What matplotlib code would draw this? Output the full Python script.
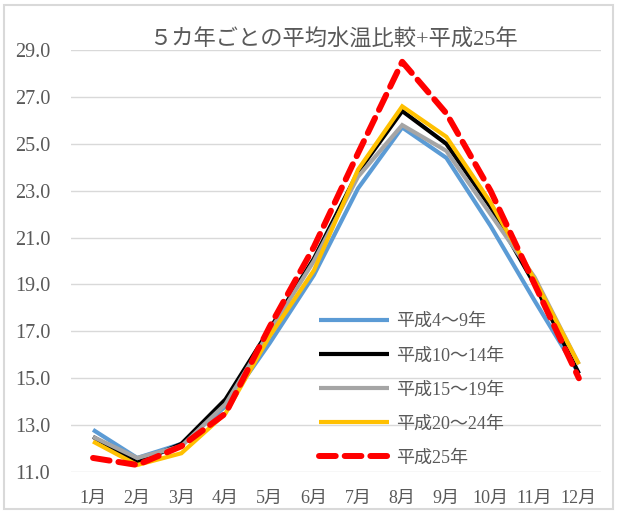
import matplotlib
matplotlib.use("Agg")
import matplotlib.pyplot as plt
from matplotlib.patches import Rectangle

plt.rcParams['font.family'] = ['Liberation Serif', 'Noto Sans CJK JP', 'DejaVu Sans']

months = ["1月", "2月", "3月", "4月", "5月", "6月", "7月", "8月", "9月", "10月", "11月", "12月"]

h4_9 = [12.8, 11.6, 12.2, 13.8, 16.5, 19.4, 23.1, 25.7, 24.4, 21.5, 18.3, 15.2]
h10_14 = [12.5, 11.4, 12.2, 14.1, 17.1, 20.1, 23.8, 26.4, 25.0, 22.3, 19.0, 15.2]
h15_19 = [12.5, 11.6, 12.1, 13.9, 17.0, 20.0, 23.6, 25.8, 24.7, 22.0, 19.3, 15.6]
h20_24 = [12.3, 11.3, 11.8, 13.5, 16.8, 19.6, 23.9, 26.6, 25.3, 22.5, 19.2, 15.6]
h25 = [11.6, 11.3, 12.1, 13.5, 17.2, 20.6, 24.6, 28.5, 26.3, 23.0, 19.0, 15.0]

yticks = [11.0, 13.0, 15.0, 17.0, 19.0, 21.0, 23.0, 25.0, 27.0, 29.0]

series = [
    ("平成4～9年", h4_9, "#5b9bd5", "-", 3.0),
    ("平成10～14年", h10_14, "#000000", "-", 3.0),
    ("平成15～19年", h15_19, "#a5a5a5", "-", 3.0),
    ("平成20～24年", h20_24, "#ffc000", "-", 3.0),
    ("平成25年", h25, "#ff0000", "--", 4.3),
]

fig = plt.figure(figsize=(6.17, 5.11), dpi=100)
ax = fig.add_axes([0.115, 0.0763, 0.859, 0.8257])

x = list(range(len(months)))
for label, vals, color, ls, lw in series:
    line, = ax.plot(x, vals, color=color, linestyle=ls, linewidth=lw, label=label,
                    solid_joinstyle='miter', solid_capstyle='butt')
    if ls == "--":
        line.set_dashes([2.8, 1.5])
        line.set_dash_capstyle('round')

ax.set_xlim(-0.5, len(months) - 0.5)
ax.set_ylim(11, 29)
ax.set_xticks(x)
ax.set_xticklabels(months)
ax.set_yticks(yticks)
ax.set_yticklabels([f"{v:.1f}" for v in yticks])
ax.yaxis.grid(True, color="#d9d9d9", linewidth=1.0)
ax.set_axisbelow(True)
for s in ax.spines.values():
    s.set_visible(False)
ax.tick_params(axis='both', length=0, colors="#595959")
ax.tick_params(axis='y', labelsize=14.5, pad=15)
ax.tick_params(axis='x', labelsize=13, pad=13)

fig.text(0.540, 0.922, "５カ年ごとの平均水温比較+平成25年", ha='center', va='center',
         fontsize=16, color="#595959")

leg = ax.legend(loc='upper left', bbox_to_anchor=(0.438, 0.415), frameon=False,
                fontsize=13, handlelength=3.85, handletextpad=0.4, labelspacing=0.95,
                labelcolor="#595959")

fig.patches.append(Rectangle((0.007, 0.004), 0.986, 0.987, transform=fig.transFigure,
                             fill=False, edgecolor="#d9d9d9", linewidth=1.5))

fig.savefig("out.png", dpi=100)
